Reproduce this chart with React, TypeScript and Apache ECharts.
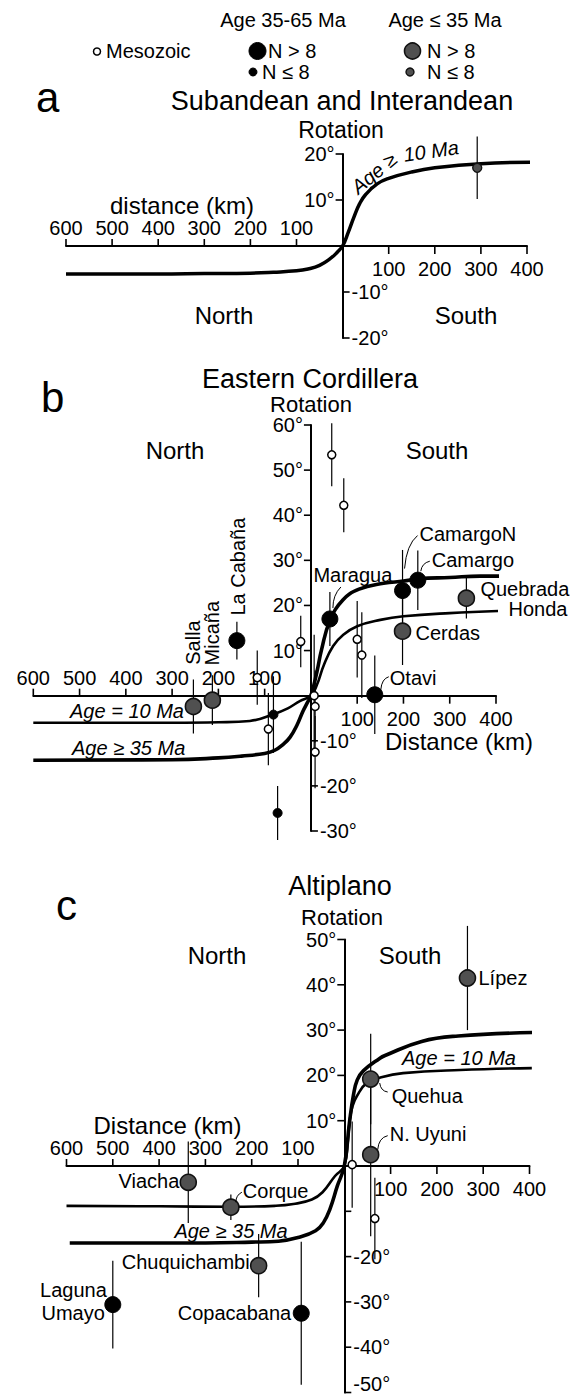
import React, { useEffect, useRef } from "react";
import * as echarts from "echarts";

const FF = '"Liberation Sans", Arial, Helvetica, sans-serif';

type Kind = "meso" | "oldBig" | "oldSmall" | "youngBig" | "youngSmall";
interface Site { name: string; x: number; y: number; err: number; kind: Kind }

// ---------- tick values ----------
const X_TICKS = [-600, -500, -400, -300, -200, -100, 100, 200, 300, 400];
const A_Y_TICKS = [20, 10, -10, -20];
const B_Y_TICKS = [60, 50, 40, 30, 20, 10, -10, -20, -30];
const C_Y_TICKS = [50, 40, 30, 20, 10, -10, -20, -30, -40, -50];
const C_Y_UNLABELLED = [-10];

// ---------- model curves (distance km, rotation deg) ----------
const A_CURVE_10: number[][] = [
  [-600, -6.1], [-400, -6.1], [-300, -6.0], [-200, -5.9], [-150, -5.7], [-100, -5.4], [-75, -5.0],
  [-50, -4.2], [-25, -2.6], [-12, -1.4], [0, 0], [12, 2.9], [25, 6.4], [37, 9.2], [50, 11.2],
  [75, 13.5], [100, 14.7], [150, 16.1], [200, 17.0], [300, 17.9], [420, 18.2],
];
const B_CURVE_10: number[][] = [
  [-600, -6.0], [-300, -6.0], [-200, -5.9], [-132, -5.6], [-81, -4.1], [-50, -2.8], [-24, -1.2],
  [0, 0], [13, 2.4], [28, 6.8], [48, 11.0], [70, 13.5], [100, 15.4], [150, 16.8], [200, 17.6],
  [300, 18.3], [419, 18.8],
];
const B_CURVE_35: number[][] = [
  [-600, -14.3], [-300, -14.2], [-200, -13.8], [-150, -13.4], [-100, -12.8], [-78, -12.1],
  [-60, -10.8], [-45, -9.2], [-30, -6.5], [-17, -3.4], [-8, -1.6], [0, 0], [13, 5.3], [23, 10.2],
  [41, 16.6], [69, 21.2], [104, 23.6], [157, 24.9], [200, 25.4], [233, 25.9], [300, 26.2],
  [366, 26.5], [419, 26.5],
];
const C_CURVE_10: number[][] = [
  [-600, -8.8], [-400, -8.9], [-245, -9.0], [-150, -8.8], [-110, -8.4], [-70, -7.4], [-47, -5.8],
  [-20, -2.2], [0, 0], [8, 5.9], [12, 10.3], [18, 13.3], [27, 15.4], [48, 18.3], [80, 19.6],
  [127, 20.5], [250, 21.2], [405, 21.6],
];
const C_CURVE_35: number[][] = [
  [-593, -17.0], [-400, -17.0], [-300, -17.0], [-200, -16.8], [-142, -16.6], [-100, -15.8],
  [-62, -14.3], [-45, -12.5], [-31, -9.5], [-15, -4.4], [0, 0], [11, 9.5], [20, 15.8], [28, 19.0],
  [41, 21.0], [77, 23.8], [88, 24.4], [167, 27.5], [246, 28.7], [416, 29.5],
];

// ---------- palaeomagnetic sites ----------
const A_SITES: Site[] = [{ name: "", x: 292, y: 17.0, err: 6.8, kind: "youngSmall" }];

const B_SITES: Site[] = [
  { name: "", x: 45, y: 53.4, err: 7, kind: "meso" },
  { name: "", x: 71, y: 42.2, err: 6, kind: "meso" },
  { name: "", x: -116, y: 4.0, err: 6, kind: "meso" },
  { name: "", x: -92, y: -7.4, err: 8, kind: "meso" },
  { name: "", x: -22, y: 12.0, err: 5.7, kind: "meso" },
  { name: "", x: 7, y: 0, err: 13.5, kind: "meso" },
  { name: "", x: 9, y: -2.4, err: 8, kind: "meso" },
  { name: "", x: 9, y: -12.5, err: 8, kind: "meso" },
  { name: "", x: 100, y: 12.5, err: 8.5, kind: "meso" },
  { name: "", x: 110, y: 9, err: 9.5, kind: "meso" },
  { name: "", x: -81, y: -4.2, err: 8.5, kind: "oldSmall" },
  { name: "", x: -72, y: -26, err: 6, kind: "oldSmall" },
  { name: "La Cabaña", x: -160, y: 12.2, err: 4.2, kind: "oldBig" },
  { name: "Maragua", x: 41, y: 17.0, err: 6, kind: "oldBig" },
  { name: "CamargoN", x: 198, y: 23.3, err: 9, kind: "oldBig" },
  { name: "Camargo", x: 231, y: 25.6, err: 6.6, kind: "oldBig" },
  { name: "Otavi", x: 138, y: 0.2, err: 8.7, kind: "oldBig" },
  { name: "Salla", x: -254, y: -2.4, err: 6, kind: "youngBig" },
  { name: "Micaña", x: -213, y: -1.0, err: 5.5, kind: "youngBig" },
  { name: "Cerdas", x: 198, y: 14.3, err: 7.5, kind: "youngBig" },
  { name: "Quebrada Honda", x: 336, y: 21.6, err: 4.5, kind: "youngBig" },
];

const C_SITES: Site[] = [
  { name: "Viacha", x: -337, y: -3.6, err: 9, kind: "youngBig" },
  { name: "Corque", x: -245, y: -9.1, err: 2.8, kind: "youngBig" },
  { name: "Chuquichambi", x: -185, y: -22, err: 7, kind: "youngBig" },
  { name: "Laguna Umayo", x: -500, y: -30.6, err: 9.7, kind: "oldBig" },
  { name: "Copacabana", x: -93, y: -32.5, err: 15.8, kind: "oldBig" },
  { name: "", x: 17, y: 0.3, err: 9.5, kind: "meso" },
  { name: "N. Uyuni", x: 57, y: 2.5, err: 18, kind: "youngBig" },
  { name: "Quehua", x: 57, y: 19.2, err: 10, kind: "youngBig" },
  { name: "", x: 66, y: -11.6, err: 9, kind: "meso" },
  { name: "Lípez", x: 266, y: 41.5, err: 11.5, kind: "youngBig" },
];

// ---------- label placement (pixel offsets from the site symbol) ----------
type Part = { t: string; dx: number; dy: number; align: "left" | "right" | "center"; rot?: number };
type Layout = { parts: Part[]; leader?: number[] };
const LABELS: Record<string, Layout> = {
  "Salla": { parts: [{ t: "Salla", dx: 0, dy: -64, align: "center", rot: 90 }] },
  "Micaña": { parts: [{ t: "Micaña", dx: 0, dy: -67, align: "center", rot: 90 }] },
  "La Cabaña": { parts: [{ t: "La Cabaña", dx: 1, dy: -74, align: "center", rot: 90 }] },
  "Maragua": { parts: [{ t: "Maragua", dx: 23, dy: -44, align: "center" }], leader: [11, -32, 3, -24, 3, -11] },
  "CamargoN": { parts: [{ t: "CamargoN", dx: 17, dy: -57, align: "left" }], leader: [15, -55, 4, -46, 2, -22] },
  "Camargo": { parts: [{ t: "Camargo", dx: 14, dy: -20, align: "left" }], leader: [12, -19, 4, -17, 3, -9] },
  "Cerdas": { parts: [{ t: "Cerdas", dx: 13, dy: 2, align: "left" }] },
  "Quebrada Honda": {
    parts: [
      { t: "Quebrada", dx: 14, dy: -9, align: "left" },
      { t: "Honda", dx: 101, dy: 11, align: "right" },
    ],
  },
  "Otavi": { parts: [{ t: "Otavi", dx: 15, dy: -17, align: "left" }], leader: [14, -18, 7, -16, 6, -5] },
  "Viacha": { parts: [{ t: "Viacha", dx: -9, dy: -1, align: "right" }] },
  "Corque": { parts: [{ t: "Corque", dx: 12, dy: -16, align: "left" }], leader: [11, -15, 5, -12, 5, -5] },
  "Chuquichambi": { parts: [{ t: "Chuquichambi", dx: -9, dy: -4, align: "right" }] },
  "Laguna Umayo": {
    parts: [
      { t: "Laguna", dx: -6, dy: -15, align: "right" },
      { t: "Umayo", dx: -8, dy: 8, align: "right" },
    ],
  },
  "Copacabana": { parts: [{ t: "Copacabana", dx: -10, dy: 0, align: "right" }] },
  "N. Uyuni": { parts: [{ t: "N. Uyuni", dx: 19, dy: -21, align: "left" }], leader: [17, -19, 8, -17, 7, -5] },
  "Quehua": { parts: [{ t: "Quehua", dx: 21, dy: 17, align: "left" }], leader: [17, 13, 10, 12, 9, 4] },
  "Lípez": { parts: [{ t: "Lípez", dx: 11, dy: 0, align: "left" }] },
};

const KIND_STYLE: Record<Kind, { size: number; color: string; border: string; bw: number }> = {
  meso: { size: 8, color: "#ffffff", border: "#000000", bw: 1.5 },
  oldBig: { size: 16, color: "#000000", border: "#000000", bw: 1 },
  oldSmall: { size: 9, color: "#000000", border: "#000000", bw: 1 },
  youngBig: { size: 16, color: "#505050", border: "#111111", bw: 1.6 },
  youngSmall: { size: 9, color: "#505050", border: "#111111", bw: 1.4 },
};

const GRIDS = [
  { left: 66, top: 154, width: 461, height: 184 },
  { left: 33.3, top: 425, width: 462.7, height: 406 },
  { left: 66.5, top: 939.5, width: 463, height: 453 },
];
const Y_RANGES = [[-20, 20], [-30, 60], [-50, 50]];

function txt(style: any) {
  return {
    fill: "#000",
    fontFamily: FF,
    ...style,
    textAlign: style.align,
    textVerticalAlign: "middle",
    verticalAlign: "middle",
  };
}

function panelSeries(
  gi: number,
  sites: Site[],
  curves: { data: number[][]; width: number }[],
  yTicks: number[],
  yUnlabelled: number[],
) {
  const series: any[] = [];
  const base = { xAxisIndex: gi, yAxisIndex: gi, silent: true };
  curves.forEach((c) => {
    series.push({
      ...base,
      type: "line",
      data: c.data,
      smooth: 0.45,
      showSymbol: false,
      symbol: "none",
      clip: false,
      lineStyle: { color: "#000", width: c.width },
      z: 3,
    });
  });
  // x ticks
  series.push({
    ...base,
    type: "custom",
    data: X_TICKS.map((v) => [v, 0]),
    z: 2,
    renderItem: (params: any, api: any) => {
      const v = api.value(0);
      const p = api.coord([v, 0]);
      const north = v < 0;
      return {
        type: "group",
        children: [
          {
            type: "line",
            shape: { x1: p[0], y1: p[1], x2: p[0], y2: north ? p[1] - 7 : p[1] + 8 },
            style: { stroke: "#000", lineWidth: 1.6 },
          },
          {
            type: "text",
            x: p[0],
            y: north ? p[1] - 18 : p[1] + 23,
            style: txt({ text: String(Math.abs(v)), fontSize: 20, align: "center" }),
          },
        ],
      };
    },
  });
  // y ticks
  series.push({
    ...base,
    type: "custom",
    data: yTicks.map((v) => [0, v]),
    z: 2,
    renderItem: (params: any, api: any) => {
      const v = api.value(1);
      const p = api.coord([0, v]);
      const pos = v > 0;
      const children: any[] = [
        {
          type: "line",
          shape: { x1: p[0], y1: p[1], x2: pos ? p[0] - 7 : p[0] + 7, y2: p[1] },
          style: { stroke: "#000", lineWidth: 1.6 },
        },
      ];
      if (yUnlabelled.indexOf(v) < 0) {
        children.push({
          type: "text",
          x: pos ? p[0] - 8 : p[0] + 9,
          y: Math.min(p[1], 1384),
          style: txt({ text: `${v}°`, fontSize: 20, align: pos ? "right" : "left" }),
        });
      }
      return { type: "group", children };
    },
  });
  // error bars
  series.push({
    ...base,
    type: "custom",
    data: sites.map((s) => [s.x, s.y, s.err]),
    z: 4,
    renderItem: (params: any, api: any) => {
      const x = api.value(0), y = api.value(1), e = api.value(2);
      const a = api.coord([x, y - e]);
      const b = api.coord([x, y + e]);
      return {
        type: "line",
        shape: { x1: a[0], y1: a[1], x2: b[0], y2: b[1] },
        style: { stroke: "#000", lineWidth: 1.2 },
      };
    },
  });
  // symbols
  (Object.keys(KIND_STYLE) as Kind[]).forEach((k) => {
    const list = sites.filter((s) => s.kind === k);
    if (!list.length) return;
    const st = KIND_STYLE[k];
    series.push({
      ...base,
      type: "scatter",
      data: list.map((s) => [s.x, s.y]),
      symbol: "circle",
      symbolSize: st.size,
      itemStyle: { color: st.color, borderColor: st.border, borderWidth: st.bw, opacity: 1 },
      z: 5,
    });
  });
  // site labels
  const labelled = sites.filter((s) => s.name && LABELS[s.name]);
  if (labelled.length) {
    series.push({
      ...base,
      type: "custom",
      data: labelled.map((s) => [s.x, s.y]),
      z: 6,
      renderItem: (params: any, api: any) => {
        const s = labelled[params.dataIndex];
        const p = api.coord([s.x, s.y]);
        const L = LABELS[s.name];
        const children: any[] = L.parts.map((pt) => ({
          type: "text",
          x: p[0] + pt.dx,
          y: p[1] + pt.dy,
          rotation: ((pt.rot || 0) * Math.PI) / 180,
          style: txt({ text: pt.t, fontSize: 20, align: pt.align }),
        }));
        if (L.leader) {
          const [x1, y1, cx, cy, x2, y2] = L.leader;
          children.push({
            type: "bezierCurve",
            shape: { x1: p[0] + x1, y1: p[1] + y1, cpx1: p[0] + cx, cpy1: p[1] + cy, x2: p[0] + x2, y2: p[1] + y2 },
            style: { stroke: "#000", lineWidth: 1, fill: "none" },
          });
        }
        return { type: "group", children };
      },
    });
  }
  return series;
}

function gText(text: string, x: number, y: number, size: number, align: string, opts: any = {}) {
  return {
    type: "text",
    x,
    y,
    rotation: opts.rot ? (opts.rot * Math.PI) / 180 : 0,
    silent: true,
    style: txt({ text, fontSize: size, align, fontStyle: opts.italic ? "italic" : "normal" }),
  };
}

export default function App() {
  const ref = useRef<HTMLDivElement>(null);
  useEffect(() => {
    if (!ref.current) return;
    const chart = echarts.init(ref.current, undefined, { renderer: "svg" });

    const xAxis = GRIDS.map((_, i) => ({
      gridIndex: i,
      type: "value",
      min: -600,
      max: 400,
      axisLine: { show: true, onZero: true, lineStyle: { color: "#000", width: 2 } },
      axisTick: { show: false },
      axisLabel: { show: false },
      splitLine: { show: false },
    }));
    const yAxis = GRIDS.map((_, i) => ({
      gridIndex: i,
      type: "value",
      min: Y_RANGES[i][0],
      max: Y_RANGES[i][1],
      axisLine: { show: true, onZero: true, lineStyle: { color: "#000", width: 2 } },
      axisTick: { show: false },
      axisLabel: { show: false },
      splitLine: { show: false },
    }));

    const series = [
      ...panelSeries(0, A_SITES, [{ data: A_CURVE_10, width: 3.5 }], A_Y_TICKS, []),
      ...panelSeries(1, B_SITES, [{ data: B_CURVE_10, width: 2.6 }, { data: B_CURVE_35, width: 3.6 }], B_Y_TICKS, []),
      ...panelSeries(2, C_SITES, [{ data: C_CURVE_10, width: 2.6 }, { data: C_CURVE_35, width: 3.6 }], C_Y_TICKS, C_Y_UNLABELLED),
    ];

    const graphic: any[] = [
      // legend
      gText("Age 35-65 Ma", 283, 20, 20, "center"),
      gText("Age ≤ 35 Ma", 445, 20, 20, "center"),
      { type: "circle", shape: { cx: 97, cy: 51.5, r: 3.5 }, style: { fill: "#fff", stroke: "#000", lineWidth: 1.5 } },
      gText("Mesozoic", 106, 51, 20, "left"),
      { type: "circle", shape: { cx: 257.5, cy: 51, r: 8.5 }, style: { fill: "#000", stroke: "#000", lineWidth: 1 } },
      gText("N > 8", 268, 51, 20, "left"),
      { type: "circle", shape: { cx: 253, cy: 72, r: 4 }, style: { fill: "#000", stroke: "#000", lineWidth: 1 } },
      gText("N ≤ 8", 262, 71.5, 20, "left"),
      { type: "circle", shape: { cx: 412.5, cy: 51, r: 8 }, style: { fill: "#505050", stroke: "#111", lineWidth: 1.6 } },
      gText("N > 8", 427, 51, 20, "left"),
      { type: "circle", shape: { cx: 410, cy: 72, r: 4 }, style: { fill: "#505050", stroke: "#111", lineWidth: 1.4 } },
      gText("N ≤ 8", 427, 71.5, 20, "left"),
      // panel a
      gText("a", 36, 97, 42, "left"),
      gText("Subandean and Interandean", 342, 101, 27, "center"),
      gText("Rotation", 341, 130, 23, "center"),
      gText("distance (km)", 110, 205, 24, "left"),
      gText("North", 224, 315, 24, "center"),
      gText("South", 466, 315, 24, "center"),
      gText("Age ≥", 374, 173, 20, "center", { italic: true, rot: 40 }),
      gText("10 Ma", 431, 151, 20, "center", { italic: true, rot: 8 }),
      // panel b
      gText("b", 41, 397, 42, "left"),
      gText("Eastern Cordillera", 310, 378.5, 27, "center"),
      gText("Rotation", 311, 404, 22, "center"),
      gText("North", 175, 450, 24, "center"),
      gText("South", 437, 450, 24, "center"),
      gText("Distance (km)", 385, 741, 24, "left"),
      gText("Age = 10 Ma", 70, 711, 20, "left", { italic: true }),
      gText("Age ≥ 35 Ma", 72, 748, 20, "left", { italic: true }),
      // panel c
      gText("c", 56, 905, 42, "left"),
      gText("Altiplano", 340, 886, 27, "center"),
      gText("Rotation", 342, 917, 22, "center"),
      gText("North", 217, 955, 24, "center"),
      gText("South", 410, 955, 24, "center"),
      gText("Distance (km)", 93.5, 1125, 24, "left"),
      gText("Age = 10 Ma", 459, 1058, 20, "center", { italic: true }),
      gText("Age ≥ 35 Ma", 231, 1231, 20, "center", { italic: true }),
    ];

    chart.setOption({
      animation: false,
      backgroundColor: "#ffffff",
      textStyle: { fontFamily: FF },
      grid: GRIDS.map((g) => ({ ...g, containLabel: false, outerBoundsMode: "none" })),
      xAxis,
      yAxis,
      series,
      graphic,
    });
    return () => chart.dispose();
  }, []);

  return (
    <div
      ref={ref}
      style={{ position: "absolute", left: 0, top: 0, width: 575, height: 1396, background: "#fff" }}
    />
  );
}
